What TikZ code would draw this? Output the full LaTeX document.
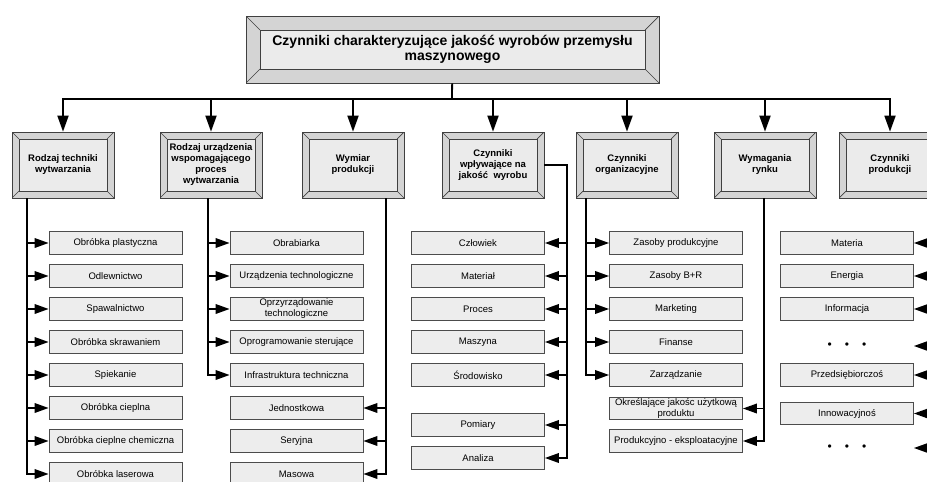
\documentclass[tikz,border=0pt]{standalone}
\usepackage{fontspec}
\setmainfont{Liberation Sans}
\usetikzlibrary{arrows.meta}

\begin{document}
\begin{tikzpicture}[x=1pt,y=-1pt,
    bevel/.style={draw=black!75, fill=black!17, line width=0.7pt, align=center,
      font=\bfseries\fontsize{9.5}{11}\selectfont,
      minimum width=102pt, minimum height=66pt,
      path picture={
        \draw[black!75, fill=black!8, line width=0.7pt]
          ([shift={(#1pt,-#1pt)}]path picture bounding box.north west) rectangle
          ([shift={(-#1pt,#1pt)}]path picture bounding box.south east);
        \draw[black!75, line width=0.7pt]
          (path picture bounding box.north west) -- ++(#1pt,-#1pt)
          (path picture bounding box.north east) -- ++(-#1pt,-#1pt)
          (path picture bounding box.south west) -- ++(#1pt,#1pt)
          (path picture bounding box.south east) -- ++(-#1pt,#1pt);
      }},
    bevel/.default=7,
    item/.style={draw=black!70, fill=black!7, line width=0.7pt, align=center,
      minimum width=133pt, minimum height=22.5pt, inner sep=0.5pt,
      font=\fontsize{9.5}{11}\selectfont},
    dots/.style={font=\fontsize{12}{12}\selectfont, inner sep=0pt},
    bus/.style={line width=1.8pt},
    drop/.style={line width=1.8pt, -{Triangle[length=16pt,width=11pt]}},
    link/.style={line width=1.8pt, -{Triangle[length=14pt,width=9.5pt]}}]
    \useasboundingbox (0,0) rectangle (927,482);
    \clip (0,0) rectangle (927,482);

    % main box
    \node[bevel=14, minimum width=413pt, minimum height=67pt,
      font=\bfseries\fontsize{14}{15}\selectfont] (Czynniki) at (452.5,49.5)
      {Czynniki charakteryzujące jakość wyrobów przemysłu\\maszynowego};

    % second level
    \node[bevel] (Technika) at (63,165) {Rodzaj techniki\\wytwarzania};
    \node[bevel] (Urzadzenie) at (211,165) {Rodzaj urządzenia\\wspomagającego\\proces\\wytwarzania};
    \node[bevel] (Wymiar) at (353,165) {Wymiar\\produkcji};
    \node[bevel] (Wplyw) at (493,165) {Czynniki\\wpływające na\\jakość\ \ wyrobu};
    \node[bevel] (Organizacja) at (627,165) {Czynniki\\organizacyjne};
    \node[bevel] (Rynek) at (765,165) {Wymagania\\rynku};
    \node[bevel] (Produkcja) at (890,165) {Czynniki\\produkcji};

    % techniki wytwarzania
    \node[item] (plast) at (115.5,243) {Obróbka plastyczna};
    \node[item] (odlew) at (115.5,276) {Odlewnictwo};
    \node[item] (spaw) at (115.5,309) {Spawalnictwo};
    \node[item] (skraw) at (115.5,342) {Obróbka skrawaniem};
    \node[item] (spiek) at (115.5,375) {Spiekanie};
    \node[item] (ciepl) at (115.5,408) {Obróbka cieplna};
    \node[item] (chem) at (115.5,441) {Obróbka cieplne chemiczna};
    \node[item] (laser) at (115.5,474) {Obróbka laserowa};

    % urzadzenia i wymiar
    \node[item] (obrab) at (296.5,243) {Obrabiarka};
    \node[item] (urzadz) at (296.5,276) {Urządzenia technologiczne};
    \node[item] (oprzyrz) at (296.5,309) {Oprzyrządowanie\\technologiczne};
    \node[item] (oprogr) at (296.5,342) {Oprogramowanie sterujące};
    \node[item] (infra) at (296.5,375) {Infrastruktura techniczna};
    \node[item] (jedn) at (296.5,408) {Jednostkowa};
    \node[item] (seryj) at (296.5,441) {Seryjna};
    \node[item] (masow) at (296.5,474) {Masowa};

    % czynniki wplywajace
    \node[item] (czlow) at (478,243) {Człowiek};
    \node[item] (mater) at (478,276) {Materiał};
    \node[item] (proces) at (478,309) {Proces};
    \node[item] (maszyn) at (478,342) {Maszyna};
    \node[item] (srodow) at (478,375) {Środowisko};
    \node[item] (pomiar) at (478,425) {Pomiary};
    \node[item] (analiz) at (478,458) {Analiza};

    % organizacja i rynek
    \node[item] (zasprod) at (676,243) {Zasoby produkcyjne};
    \node[item] (zasbr) at (676,276) {Zasoby B+R};
    \node[item] (market) at (676,309) {Marketing};
    \node[item] (finans) at (676,342) {Finanse};
    \node[item] (zarzad) at (676,375) {Zarządzanie};
    \node[item] (okresl) at (676,408.5) {Określające jakośc użytkową\\produktu};
    \node[item] (eksplo) at (676,441) {Produkcyjno - eksploatacyjne};

    % czynniki produkcji
    \node[item] (materia) at (847,243) {Materia};
    \node[item] (energia) at (847,276) {Energia};
    \node[item] (inform) at (847,309) {Informacja};
    \node[dots] (dotsA) at (847,346) {\textbullet\hspace{13pt}\textbullet\hspace{13pt}\textbullet};
    \node[item] (przeds) at (847,375) {Przedsiębiorczoś};
    \node[item] (innow) at (847,413.5) {Innowacyjnoś};
    \node[dots] (dotsB) at (847,448) {\textbullet\hspace{13pt}\textbullet\hspace{13pt}\textbullet};

    \coordinate (bus) at (452,99);
    \coordinate (c1) at (27,0);
    \coordinate (c2) at (208,0);
    \coordinate (c3) at (386,0);
    \coordinate (c4) at (567,0);
    \coordinate (c5) at (586,0);
    \coordinate (c6) at (764,0);
    \coordinate (c7) at (936,0);

    \draw[bus] (Czynniki) -- (bus);
    \draw[drop] (bus) -| (Technika.north);
    \draw[drop] (bus) -| (Produkcja.north);
    \draw[drop] (bus -| Urzadzenie) -- (Urzadzenie.north);
    \draw[drop] (bus -| Wymiar) -- (Wymiar.north);
    \draw[drop] (bus -| Wplyw) -- (Wplyw.north);
    \draw[drop] (bus -| Organizacja) -- (Organizacja.north);
    \draw[drop] (bus -| Rynek) -- (Rynek.north);

    \draw[link] (Technika.south -| c1) |- (laser.west);
    \draw[link] (c1 |- plast) -- (plast.west);
    \draw[link] (c1 |- odlew) -- (odlew.west);
    \draw[link] (c1 |- spaw) -- (spaw.west);
    \draw[link] (c1 |- skraw) -- (skraw.west);
    \draw[link] (c1 |- spiek) -- (spiek.west);
    \draw[link] (c1 |- ciepl) -- (ciepl.west);
    \draw[link] (c1 |- chem) -- (chem.west);

    \draw[link] (Urzadzenie.south -| c2) |- (infra.west);
    \draw[link] (c2 |- obrab) -- (obrab.west);
    \draw[link] (c2 |- urzadz) -- (urzadz.west);
    \draw[link] (c2 |- oprzyrz) -- (oprzyrz.west);
    \draw[link] (c2 |- oprogr) -- (oprogr.west);

    \draw[link] (Wymiar.south -| c3) |- (masow.east);
    \draw[link] (c3 |- jedn) -- (jedn.east);
    \draw[link] (c3 |- seryj) -- (seryj.east);

    \draw[link] (Wplyw.east) -- (Wplyw.east -| c4) |- (analiz.east);
    \draw[link] (c4 |- czlow) -- (czlow.east);
    \draw[link] (c4 |- mater) -- (mater.east);
    \draw[link] (c4 |- proces) -- (proces.east);
    \draw[link] (c4 |- maszyn) -- (maszyn.east);
    \draw[link] (c4 |- srodow) -- (srodow.east);
    \draw[link] (c4 |- pomiar) -- (pomiar.east);

    \draw[link] (Organizacja.south -| c5) |- (zarzad.west);
    \draw[link] (c5 |- zasprod) -- (zasprod.west);
    \draw[link] (c5 |- zasbr) -- (zasbr.west);
    \draw[link] (c5 |- market) -- (market.west);
    \draw[link] (c5 |- finans) -- (finans.west);

    \draw[link] (Rynek.south -| c6) |- (eksplo.east);
    \draw[link] (c6 |- okresl) -- (okresl.east);

    \draw[link] (Produkcja.south -| c7) |- (dotsB -| materia.east);
    \draw[link] (c7 |- materia) -- (materia.east);
    \draw[link] (c7 |- energia) -- (energia.east);
    \draw[link] (c7 |- inform) -- (inform.east);
    \draw[link] (c7 |- dotsA) -- (dotsA -| materia.east);
    \draw[link] (c7 |- przeds) -- (przeds.east);
    \draw[link] (c7 |- innow) -- (innow.east);
\end{tikzpicture}
\end{document}
